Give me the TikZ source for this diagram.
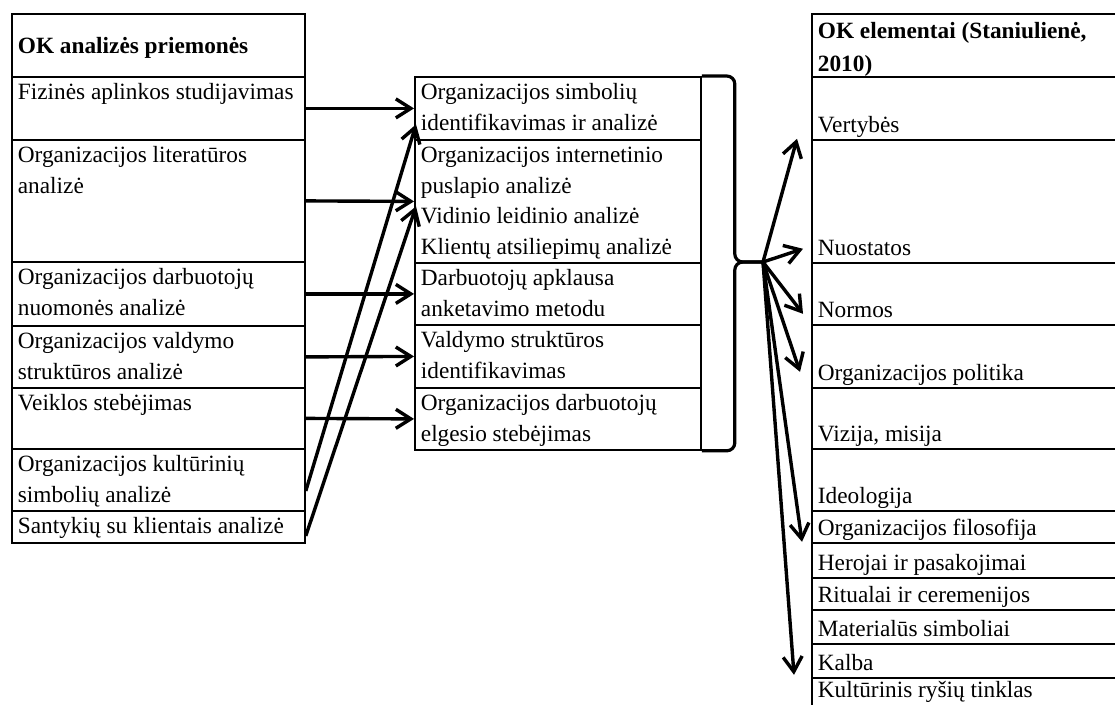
\documentclass[tikz,border=0pt]{standalone}
\usepackage{fontspec}
\setmainfont{Liberation Serif}
\usetikzlibrary{arrows.meta}

% table cells: text at the top or at the bottom of a fixed box
\newcommand{\celltop}[4][23pt]{\parbox[t][#3][t]{#2}{\raggedright\leftskip=6pt\rule{0pt}{#1}#4}}
\newcommand{\cellbot}[4][7pt]{\parbox[t][#3][b]{#2}{\raggedright\leftskip=6pt #4\rule[-#1]{0pt}{#1}\par\vspace{0pt}}}

\tikzset{
    cell/.style={draw, line width=1.8pt, inner sep=0pt, anchor=north west},
    arr/.style={line width=3.4pt, -{Straight Barb[length=15pt,width=19pt]}},
    bracket/.style={line width=3.2pt, rounded corners=8pt},
}

\begin{document}
\begin{tikzpicture}[x=1pt, y=-1pt, font=\fontsize{23.3}{30.5}\selectfont]
    \useasboundingbox (0,0) rectangle (1115,704);
    \clip (0,0) rectangle (1115,704);

    % left column
    \node[cell] (L0) at (11,13) {\celltop[40pt]{293pt}{63pt}{\bfseries OK analizės priemonės}};
    \foreach \n/\y/\h/\t in {
        1/76/63pt/{Fizinės aplinkos studijavimas},
        2/139/122pt/{Organizacijos literatūros\\analizė},
        3/261/64pt/{Organizacijos darbuotojų\\nuomonės analizė},
        4/325/62pt/{Organizacijos valdymo\\struktūros analizė},
        5/387/61pt/{Veiklos stebėjimas},
        6/448/62pt/{Organizacijos kultūrinių\\simbolių analizė},
        7/510/32pt/{Santykių su klientais analizė}} {
        \node[cell] (L\n) at (11,\y) {\celltop{293pt}{\h}{\t}};
    }

    % middle column
    \foreach \n/\y/\h/\t in {
        1/76/63pt/{Organizacijos simbolių\\identifikavimas ir analizė},
        2/139/123pt/{Organizacijos internetinio\\puslapio analizė\\Vidinio leidinio analizė\\Klientų atsiliepimų analizė},
        3/262/62pt/{Darbuotojų apklausa\\anketavimo metodu},
        4/324/63pt/{Valdymo struktūros\\identifikavimas},
        5/387/62pt/{Organizacijos darbuotojų\\elgesio stebėjimas}} {
        \node[cell] (M\n) at (414,\y) {\celltop{286pt}{\h}{\t}};
    }

    % right column
    \node[cell] (R0) at (811,13) {\celltop[25pt]{320pt}{63pt}{\bfseries OK elementai (Staniulienė,\\[2pt]2010)}};
    \foreach \n/\y/\h/\t in {
        1/76/63pt/{Vertybės},
        2/139/123pt/{Nuostatos},
        3/262/62pt/{Normos},
        4/324/63pt/{Organizacijos politika},
        5/387/61pt/{Vizija, misija},
        6/448/62pt/{Ideologija},
        7/510/32pt/{Organizacijos filosofija},
        8/542/35pt/{Herojai ir pasakojimai},
        9/577/32pt/{Ritualai ir ceremenijos},
        10/609/34pt/{Materialūs simboliai},
        11/643/34pt/{Kalba}} {
        \node[cell] (R\n) at (811,\y) {\cellbot{320pt}{\h}{\t}};
    }
    \node[cell] (R12) at (811,677) {\cellbot[12pt]{320pt}{32pt}{Kultūrinis ryšių tinklas}};

    % left -> middle
    \foreach \n in {1,...,5}
        \draw[arr] (L\n.east) -- (M\n.west);
    \draw[arr] ([yshift=-11pt]L6.east) -- ([shift={(2pt,-16pt)}]M1.west);
    \draw[arr] ([yshift=-9pt]L7.east) -- ([shift={(2pt,-5pt)}]M2.west);

    % brace
    \coordinate (hub) at (763,262);
    \draw[bracket] (M1.north east) -- ++(33,0) |- (hub);
    \draw[bracket] (hub) -| ([xshift=33pt]M5.south east) -- (M5.south east);

    % brace -> right column
    \draw[arr] (hub) -- ([shift={(-14pt,2pt)}]R1.south west);
    \draw[arr] (hub) -- ([shift={(-8pt,15pt)}]R2.south west);
    \draw[arr] (hub) -- ([shift={(-8pt,12pt)}]R3.south west);
    \draw[arr] (hub) -- ([shift={(-11pt,17pt)}]R4.south west);
    \draw[arr] (hub) -- ([shift={(-9pt,2pt)}]R7.south west);
    \draw[arr] (hub) -- ([shift={(-17pt,4pt)}]R11.south west);
\end{tikzpicture}
\end{document}
